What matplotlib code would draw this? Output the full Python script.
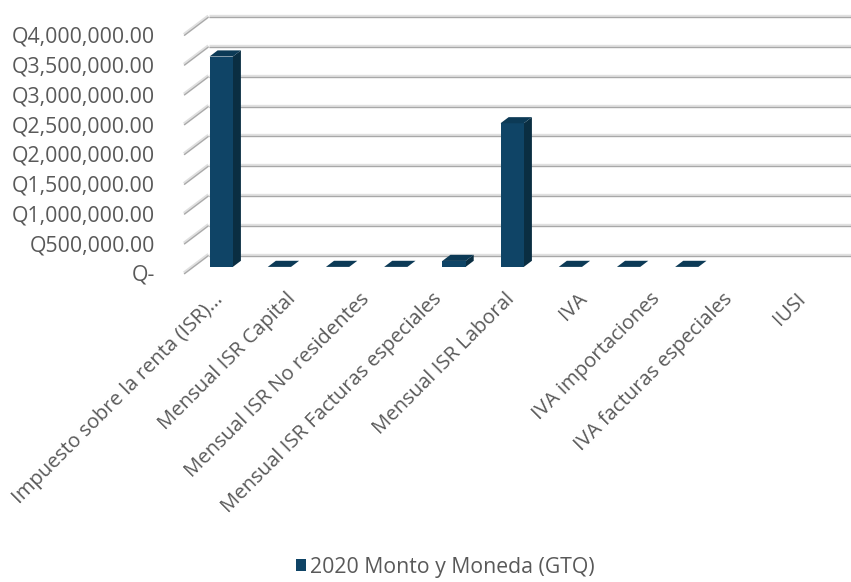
import matplotlib.pyplot as plt
import matplotlib.transforms as mtransforms
from matplotlib.patches import Polygon, Patch

plt.rcParams['font.family'] = ['Open Sans', 'DejaVu Sans']

# data
categories = ["Impuesto sobre la renta (ISR)...", "Mensual ISR Capital", "Mensual ISR No residentes",
              "Mensual ISR Facturas especiales", "Mensual ISR Laboral", "IVA", "IVA importaciones",
              "IVA facturas especiales", "IUSI"]
montos = [3530000, 0, 0, 0, 100000, 2410000, 0, 0, 0]
y_ticks = [0, 500000, 1000000, 1500000, 2000000, 2500000, 3000000, 3500000, 4000000]
serie = "2020 Monto y Moneda (GTQ)"

W, H = 851, 582
text_color = '#595959'
c_front, c_side, c_top = '#0F4466', '#0A2E42', '#0C3A56'
fs = 15.3
fs_cat = 14.6

fig = plt.figure(figsize=(W / 100, H / 100), dpi=100)

# front plane of the floor / left wall (pixel layout)
x0, y0 = 184, 273
cat_px = 58.2
val_px = 29.8 / 500000
ax = fig.add_axes([x0 / W, 1 - y0 / H, 9 * cat_px / W, 4e6 * val_px / H])
ax.set_xlim(-0.5, 8.5)
ax.set_ylim(0, 4e6)
ax.patch.set_visible(False)
for s in ax.spines.values():
    s.set_visible(False)

# depth vector (front -> back wall) in data units
ddx = 24.5 / cat_px
ddy = 18.5 / val_px


def proj(x, v, d):
    return (x + d * ddx, v + d * ddy)


# back wall gridlines + left wall diagonals
shift = mtransforms.offset_copy(ax.transData, fig, x=0, y=-1, units='dots')
for g in y_ticks:
    xs_b, ys_b = zip(proj(-0.5, g, 1), proj(12, g, 1))
    xs_l, ys_l = zip(proj(-0.5, g, 0), proj(-0.5, g, 1))
    for xs, ys in [(xs_b, ys_b), (xs_l, ys_l)]:
        ax.plot(xs, ys, color='#E0E0E0', lw=2.4, clip_on=False, zorder=1, solid_capstyle='butt')
        ax.plot(xs, ys, color='#A8A8A8', lw=0.9, clip_on=False, zorder=1.1,
                transform=shift, solid_capstyle='butt')

# 3D-looking columns
w = 0.4
d1, d2 = 0.33, 0.66
xs = list(range(len(categories)))
ax.bar([x + d1 * ddx for x in xs], montos, width=w, bottom=d1 * ddy,
       color=c_front, zorder=3, clip_on=False)
for x, v in zip(xs, montos):
    top = [proj(x - w / 2, v, d1), proj(x + w / 2, v, d1), proj(x + w / 2, v, d2), proj(x - w / 2, v, d2)]
    side = [proj(x + w / 2, 0, d1), proj(x + w / 2, v, d1), proj(x + w / 2, v, d2), proj(x + w / 2, 0, d2)]
    ax.add_patch(Polygon(side, closed=True, facecolor=c_side, edgecolor='none', zorder=2.9, clip_on=False))
    ax.add_patch(Polygon(top, closed=True, facecolor=c_top, edgecolor='none', zorder=3.1, clip_on=False))

# value axis labels
ax.set_yticks(y_ticks)
ax.set_yticklabels(["Q-" if t == 0 else f"Q{t:,.2f}" for t in y_ticks])
ax.tick_params(axis='y', length=0, pad=(x0 - 155) * 0.72, labelsize=fs, labelcolor=text_color)
ax.set_xticks([])

# category labels along the front edge
lx0, lspace = 177, 72.8
ax_lbl = fig.add_axes([lx0 / W, 1 - 285 / H, 9 * lspace / W, 0.001])
ax_lbl.set_xlim(-0.5, 8.5)
ax_lbl.patch.set_visible(False)
for s in ax_lbl.spines.values():
    s.set_visible(False)
ax_lbl.set_yticks([])
ax_lbl.set_xticks(xs)
ax_lbl.set_xticklabels(categories, rotation=45, ha='right', rotation_mode='anchor',
                       fontsize=fs_cat, color=text_color)
ax_lbl.tick_params(axis='x', length=0, pad=3)

fig.legend(handles=[Patch(facecolor=c_front)], labels=[serie], loc='center',
           bbox_to_anchor=(445 / W, 1 - 567 / H), frameon=False, fontsize=fs,
           handlelength=0.5, handleheight=0.5, handletextpad=0.15, labelcolor=text_color)

fig.savefig('out.png', dpi=100)
